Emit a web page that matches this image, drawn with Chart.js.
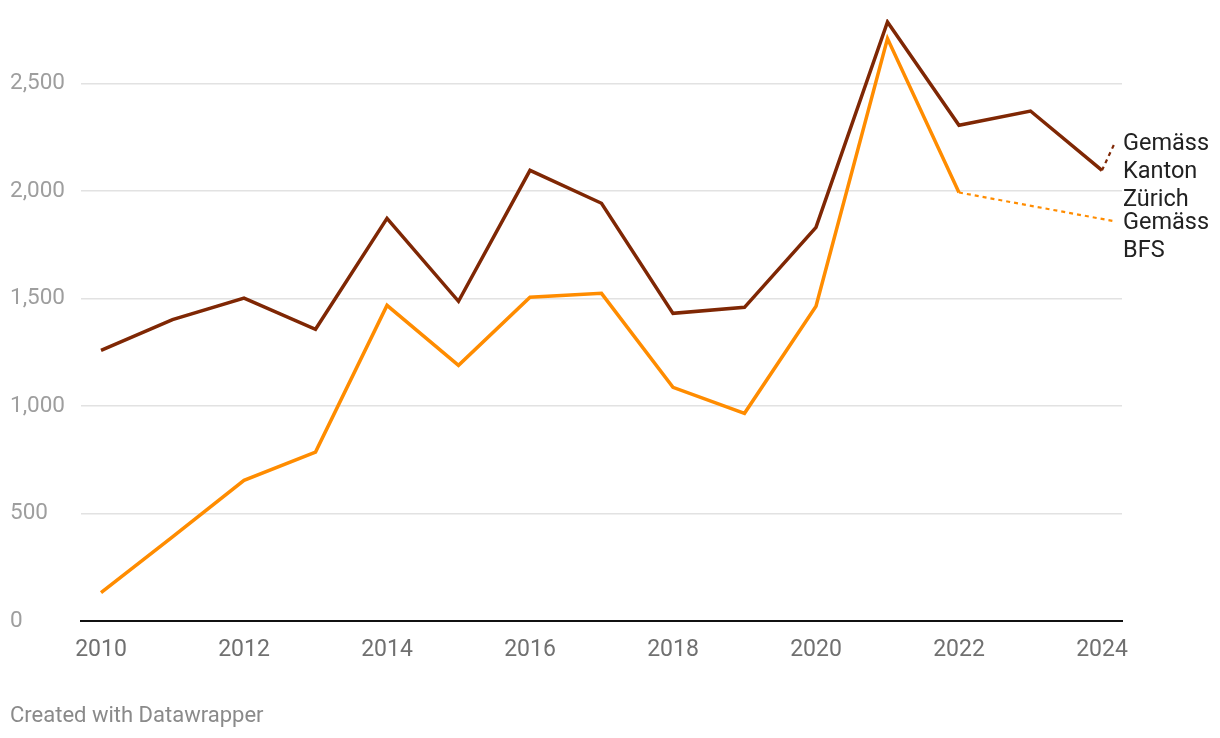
<!DOCTYPE html>
<html>
<head>
<meta charset="utf-8">
<script src="https://cdn.jsdelivr.net/npm/chart.js@4/dist/chart.umd.min.js"></script>
<style>
  html, body { margin: 0; padding: 0; background: #fff; }
  #wrap { position: relative; width: 1220px; height: 738px; }
  #footer { position: absolute; left: 10px; top: 702px; font: 22px Roboto, sans-serif; color: #8a8a8a; line-height: 26px; }
</style>
</head>
<body>
<div id="wrap">
  <canvas id="c" width="1220" height="738"></canvas>
  <div id="footer">Created with Datawrapper</div>
</div>
<script>
const years = [2010, 2011, 2012, 2013, 2014, 2015, 2016, 2017, 2018, 2019, 2020, 2021, 2022, 2023, 2024];
const kantonZuerich = [1259, 1402, 1502, 1357, 1873, 1487, 2096, 1943, 1431, 1459, 1831, 2786, 2306, 2372, 2096];
const bfs = [132, 391, 654, 786, 1468, 1189, 1506, 1524, 1087, 966, 1464, 2709, 1993, null, null];
const xTicks = [2010, 2012, 2014, 2016, 2018, 2020, 2022, 2024];
const yTicks = [0, 500, 1000, 1500, 2000, 2500];
const seriesLabels = [["Gemäss", "Kanton", "Zürich"], ["Gemäss", "BFS"]];
const seriesColors = ["#7f2704", "#ff8c00"];

const FONT = "Roboto, sans-serif";

const labelPlugin = {
  id: 'seriesLabels',
  afterDatasetsDraw(chart) {
    const ctx = chart.ctx;
    const area = chart.chartArea;
    const lineH = 28;
    const textX = area.right + 1;
    const blocks = chart.data.datasets.map((ds, i) => {
      const meta = chart.getDatasetMeta(i);
      let last = null;
      ds.data.forEach((d, j) => { if (d.y !== null) last = meta.data[j]; });
      const lines = seriesLabels[i];
      const h = lines.length * lineH;
      return { i, last, lines, h, top: last.y - h / 2 };
    });
    const order = blocks.slice().sort((a, b) => a.top - b.top);
    for (let k = 1; k < order.length; k++) {
      const prev = order[k - 1];
      const minTop = prev.top + prev.h - 5;
      if (order[k].top < minTop) order[k].top = minTop;
    }
    ctx.save();
    blocks.forEach(b => {
      const firstY = b.top + lineH / 2;
      ctx.beginPath();
      ctx.strokeStyle = seriesColors[b.i];
      ctx.lineWidth = 2.2;
      ctx.setLineDash([4, 4]);
      ctx.moveTo(b.last.x, b.last.y);
      ctx.lineTo(textX - 8, firstY);
      ctx.stroke();
      ctx.setLineDash([]);
      ctx.fillStyle = '#222';
      ctx.font = '23.5px ' + FONT;
      ctx.textAlign = 'left';
      ctx.textBaseline = 'middle';
      b.lines.forEach((t, n) => ctx.fillText(t, textX, firstY + 2 + n * lineH));
    });
    ctx.restore();
  }
};

new Chart(document.getElementById('c'), {
  type: 'line',
  data: {
    datasets: [
      {
        label: 'Gemäss Kanton Zürich',
        data: years.map((y, i) => ({ x: y, y: kantonZuerich[i] })),
        borderColor: seriesColors[0],
        borderWidth: 3.5,
        pointRadius: 0,
        tension: 0,
        spanGaps: false
      },
      {
        label: 'Gemäss BFS',
        data: years.map((y, i) => ({ x: y, y: bfs[i] })),
        borderColor: seriesColors[1],
        borderWidth: 3.5,
        pointRadius: 0,
        tension: 0,
        spanGaps: false
      }
    ]
  },
  options: {
    responsive: false,
    animation: false,
    layout: { padding: { left: 10, right: 98, top: 19, bottom: 0 } },
    plugins: { legend: { display: false }, tooltip: { enabled: false } },
    scales: {
      x: {
        type: 'linear',
        min: 2010 - 0.28,
        max: 2024 + 0.28,
        afterBuildTicks: s => { s.ticks = xTicks.map(v => ({ value: v })); },
        afterFit: s => { s.height = 117; },
        grid: { display: false, drawTicks: false },
        border: { display: true, color: '#111', width: 2 },
        ticks: {
          padding: 15,
          color: '#707070',
          font: { family: FONT, size: 23 },
          maxRotation: 0,
          autoSkip: false,
          callback: v => String(v)
        }
      },
      y: {
        min: 0,
        max: 2800,
        afterBuildTicks: s => { s.ticks = yTicks.map(v => ({ value: v })); },
        afterFit: s => { s.width = 71; },
        grid: { color: '#e2e2e2', lineWidth: 1.5, drawTicks: false },
        border: { display: false },
        ticks: {
          crossAlign: 'far',
          color: '#9e9e9e',
          font: { family: FONT, size: 22.5 },
          callback: v => v.toLocaleString('en-US')
        }
      }
    }
  },
  plugins: [labelPlugin]
});
</script>
</body>
</html>
